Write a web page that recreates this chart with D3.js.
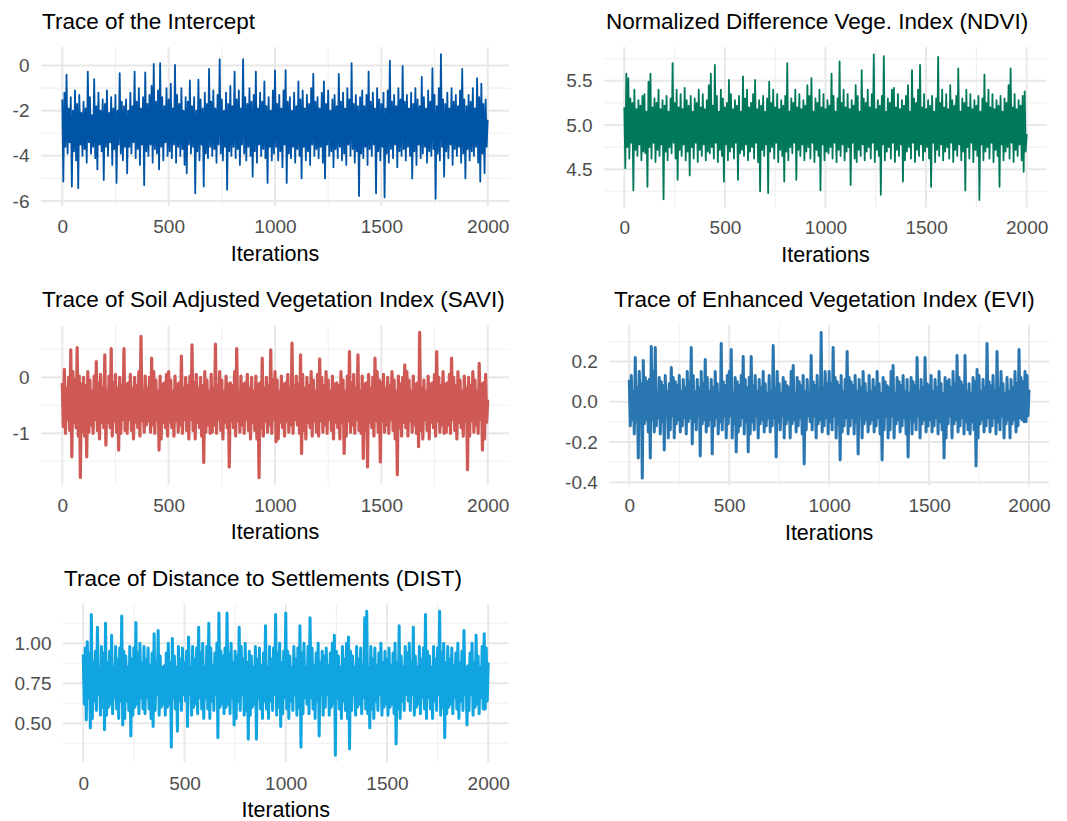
<!DOCTYPE html>
<html lang="en">
<head>
<meta charset="utf-8">
<title>MCMC traces</title>
<script src="https://cdn.jsdelivr.net/npm/d3@7"></script>
<style>
  body { margin: 0; background: #fff; }
  svg { display: block; font-family: "Liberation Sans", Arial, sans-serif; }
  .title { font-size: 22.5px; fill: #000; }
  .xlab { font-size: 21.5px; fill: #000; }
  .tick text { font-size: 19px; fill: #4d4d4d; }
</style>
</head>
<body>
<svg width="1067" height="821"></svg>
<script>
// chain thinned: one sample every 5 iterations, 0..2000
var iterations = d3.range(0, 2001, 5);

var titles = [
  "Trace of the Intercept",
  "Normalized Difference Vege. Index (NDVI)",
  "Trace of Soil Adjusted Vegetation Index (SAVI)",
  "Trace of Enhanced Vegetation Index (EVI)",
  "Trace of Distance to Settlements (DIST)"
];

var xTicks = [0, 500, 1000, 1500, 2000];
var xMinor = [250, 750, 1250, 1750];

var interceptTicks = [-6, -4, -2, 0];
var interceptMinor = [-5, -3, -1];
var ndviTicks = [4.5, 5.0, 5.5];
var ndviMinor = [4.25, 4.75, 5.25, 5.75];
var saviTicks = [-1, 0];
var saviMinor = [-1.5, -0.5, 0.5];
var eviTicks = [-0.4, -0.2, 0.0, 0.2];
var eviMinor = [-0.3, -0.1, 0.1, 0.3];
var distTicks = [0.5, 0.75, 1.0];
var distMinor = [0.375, 0.625, 0.875, 1.125];

var intercept = [
  -1.5,-5.14,-1.2,-3.6,-0.4,-3.9,-1.9,-3.4,-1.4,-5.36,-2.0,-3.8,-1.1,-4.2,-1.7,-5.43,-1.3,-3.5,-2.1,-4.0,
  -1.6,-3.7,-1.9,-4.3,-0.27,-3.4,-1.4,-3.9,-2.2,-3.6,-0.6,-4.1,-1.8,-4.6,-1.2,-3.5,-2.0,-3.8,-1.5,-5.07,
  -1.7,-3.6,-1.1,-4.0,-2.1,-3.4,-1.4,-4.4,-1.9,-3.7,-1.3,-5.2,-2.0,-3.5,-0.34,-3.9,-1.6,-4.2,-1.8,-3.6,
  -1.5,-4.77,-2.0,-3.6,-1.2,-3.9,-1.8,-3.4,-0.27,-4.1,-1.6,-3.7,-1.0,-4.4,-1.9,-3.5,-1.4,-5.3,-0.3,-3.8,
  -1.7,-4.0,-1.3,-3.5,-0.9,-4.3,0.07,-3.7,-1.6,-3.9,-1.1,-4.6,0.1,-3.6,-1.4,-4.2,-1.8,-3.4,-1.0,-4.0,
  -1.5,-3.8,-0.8,-4.1,-1.9,-3.5,0.03,-4.3,-1.3,-3.6,-1.7,-4.0,-1.0,-3.7,-2.0,-4.4,-1.4,-4.77,-1.6,-3.5,
  -0.66,-3.9,-1.8,-3.6,-1.4,-5.66,-2.0,-3.8,-0.63,-4.2,-1.5,-3.5,-1.9,-5.36,-1.2,-3.9,-1.7,-4.1,-0.15,-3.6,
  -1.6,-4.0,-1.1,-3.7,-1.9,-4.3,-1.3,-3.5,0.28,-3.9,-1.5,-4.2,-2.0,-3.6,-1.2,-5.5,-1.7,-3.8,-0.9,-4.0,
  -1.8,-3.6,-0.27,-4.1,-1.5,-3.7,-1.1,-4.4,-1.9,-3.5,0.28,-3.9,-1.4,-4.2,-1.7,-3.6,-1.0,-4.0,-1.6,-4.92,
  -1.3,-3.8,-0.27,-4.3,-1.9,-3.5,-1.2,-4.0,-1.6,-3.7,-0.7,-4.1,-1.8,-5.2,-1.4,-3.6,-2.0,-4.2,-1.1,-3.9,
  -0.22,-3.6,-1.7,-4.2,-1.3,-3.8,-1.9,-4.5,-1.1,-3.5,-0.2,-5.2,-1.6,-3.9,-1.4,-4.1,-2.0,-3.6,-1.2,-4.3,
  -1.8,-3.7,-0.7,-4.0,-1.5,-5.0,-1.1,-3.6,-1.9,-4.2,-1.3,-3.8,-1.7,-4.4,-1.0,-3.5,-0.37,-4.0,-1.6,-3.7,
  -1.4,-4.1,-1.9,-3.6,-1.2,-4.3,-0.7,-5.0,-1.7,-3.5,-1.1,-4.0,-2.0,-3.8,-1.5,-4.5,-1.3,-3.7,-1.8,-4.1,
  -0.37,-3.6,-1.6,-4.2,-1.2,-3.9,-1.9,-4.4,-1.0,-3.5,-1.5,-4.0,0.1,-3.7,-1.7,-4.3,-1.3,-3.8,-1.8,-5.78,
  -1.4,-3.9,-1.1,-4.1,-1.8,-3.6,-1.3,-4.4,-0.27,-3.7,-1.6,-4.0,-1.2,-3.5,-1.9,-5.66,-1.0,-3.8,-1.5,-4.2,
  -1.7,-3.6,-1.2,-5.84,-1.9,-3.9,-1.1,-4.3,0.22,-3.7,-1.6,-4.1,-1.3,-3.5,-1.8,-4.5,-1.0,-3.8,-1.5,-4.0,
  -0.02,-3.7,-1.6,-4.2,-1.3,-3.6,-1.9,-4.0,-1.2,-5.0,-1.7,-3.8,-1.0,-4.4,-1.5,-3.5,-1.8,-4.1,-0.5,-3.9,
  -1.4,-3.6,-1.9,-4.3,-1.1,-3.8,-1.6,-4.0,-0.12,-3.7,-1.3,-5.9,-1.8,-3.9,-1.0,-4.2,0.5,-3.6,-1.5,-4.92,
  -1.7,-3.8,-1.2,-4.1,-1.9,-3.5,-1.0,-4.4,-1.6,-3.7,-1.3,-4.0,-1.8,-3.6,-1.1,-4.3,-0.15,-3.9,-1.5,-5.0,
  -1.8,-3.7,-1.3,-4.2,-1.6,-3.8,-1.0,-4.0,-1.9,-3.6,-0.56,-4.3,-1.4,-5.14,-0.8,-3.9,-1.7,-4.77,-1.5,-3.6,
  -2.4
];

var ndvi = [
  5.2,4.51,5.58,4.75,5.53,4.62,5.3,4.8,5.25,4.26,5.4,4.72,5.18,4.65,5.28,4.78,5.22,4.6,5.33,4.7,
  5.35,4.68,5.15,4.30,5.49,4.75,5.58,4.62,5.2,4.8,5.3,4.58,5.25,4.72,5.4,4.65,5.18,4.78,5.28,4.16,
  5.22,4.7,5.33,4.6,5.15,4.75,5.3,4.68,5.70,4.8,5.25,4.62,5.4,4.38,5.2,4.72,5.35,4.65,5.18,4.78,
  5.42,4.6,5.28,4.7,5.22,4.43,5.33,4.75,5.15,4.62,5.3,4.8,5.25,4.58,5.4,4.72,5.2,4.65,5.35,4.78,
  5.18,4.6,5.28,4.7,5.45,4.68,5.58,4.75,5.22,4.62,5.68,4.8,5.33,4.58,5.15,4.72,5.4,4.65,5.3,4.36,
  5.2,4.78,5.25,4.6,5.51,4.7,5.35,4.75,5.18,4.62,5.28,4.8,5.22,4.38,5.33,4.68,5.15,4.72,5.55,4.65,
  5.3,4.78,5.4,4.6,5.2,4.7,5.25,4.75,5.35,4.62,5.51,4.8,5.18,4.58,5.28,4.25,5.22,4.72,5.33,4.65,
  5.15,4.78,5.3,4.23,5.49,4.7,5.25,4.75,5.4,4.62,5.2,4.8,5.35,4.58,5.18,4.72,5.28,4.65,5.22,4.36,
  5.33,4.7,5.70,4.6,5.15,4.75,5.3,4.68,5.25,4.8,5.4,4.38,5.2,4.72,5.35,4.65,5.18,4.78,5.28,4.6,
  5.22,4.7,5.45,4.75,5.33,4.62,5.53,4.8,5.15,4.58,5.3,4.72,5.25,4.65,5.4,4.26,5.2,4.78,5.35,4.6,
  5.18,4.7,5.28,4.68,5.22,4.75,5.58,4.62,5.33,4.8,5.15,4.58,5.3,4.72,5.72,4.65,5.25,4.78,5.4,4.6,
  5.2,4.7,5.35,4.75,5.18,4.32,5.28,4.8,5.22,4.62,5.45,4.58,5.33,4.72,5.15,4.65,5.62,4.78,5.3,4.6,
  5.25,4.7,5.4,4.75,5.2,4.62,5.35,4.8,5.80,4.58,5.18,4.72,5.28,4.65,5.22,4.21,5.33,4.78,5.78,4.6,
  5.15,4.7,5.3,4.75,5.25,4.62,5.4,4.8,5.42,4.58,5.2,4.72,5.35,4.65,5.18,4.78,5.28,4.36,5.22,4.6,
  5.33,4.7,5.45,4.75,5.15,4.62,5.62,4.8,5.3,4.58,5.25,4.72,5.4,4.65,5.68,4.78,5.2,4.6,5.35,4.7,
  5.18,4.75,5.28,4.62,5.22,4.30,5.33,4.8,5.15,4.58,5.3,4.72,5.77,4.65,5.25,4.78,5.4,4.6,5.2,4.7,
  5.35,4.75,5.18,4.62,5.45,4.8,5.28,4.58,5.22,4.72,5.33,4.65,5.64,4.78,5.15,4.6,5.3,4.7,5.25,4.26,
  5.4,4.75,5.2,4.62,5.35,4.8,5.18,4.58,5.28,4.72,5.22,4.65,5.33,4.15,5.15,4.78,5.3,4.6,5.57,4.7,
  5.25,4.75,5.4,4.62,5.2,4.8,5.35,4.58,5.18,4.72,5.28,4.65,5.22,4.30,5.33,4.78,5.15,4.6,5.3,4.7,
  5.25,4.75,5.45,4.62,5.64,4.8,5.2,4.58,5.35,4.72,5.18,4.65,5.28,4.78,5.22,4.6,5.33,4.47,5.38,4.7,
  4.9
];

var savi = [
  -0.1,-0.88,0.14,-1.0,-0.2,-0.75,0.0,-0.95,0.49,-1.42,0.1,-0.8,-0.05,-0.9,0.53,-1.05,0.02,-1.79,-0.12,-0.98,
  0.0,-1.05,-0.15,-1.42,0.1,-0.98,-0.05,-0.85,-0.25,-1.0,0.02,-0.75,0.28,-0.95,-0.1,-1.1,0.05,-0.8,-0.2,-0.9,
  0.40,-1.21,-0.25,-0.8,0.02,-0.9,0.51,-1.05,-0.1,-0.78,0.05,-0.98,-0.2,-1.30,0.0,-1.0,-0.15,-0.75,0.51,-0.95,
  -0.12,-1.0,-0.1,-0.75,0.05,-0.95,-0.2,-1.1,0.0,-0.8,-0.15,-0.9,0.1,-1.05,0.73,-0.78,-0.25,-0.98,0.02,-0.85,
  -0.2,-0.78,0.0,-0.98,0.34,-0.85,0.1,-1.0,-0.05,-0.75,-0.25,-1.30,0.02,-1.1,-0.12,-0.8,-0.1,-0.9,0.05,-1.05,
  0.1,-0.8,-0.05,-0.9,-0.25,-1.05,0.02,-0.78,-0.12,-0.98,-0.1,-0.85,0.38,-1.0,-0.2,-0.75,0.0,-0.95,-0.15,-1.1,
  0.02,-0.75,0.58,-0.95,-0.1,-1.1,0.05,-0.8,-0.2,-0.9,0.0,-1.05,-0.15,-1.52,0.1,-0.98,-0.05,-0.85,-0.25,-1.0,
  0.05,-0.98,-0.2,-0.85,0.59,-1.0,-0.15,-0.75,0.1,-0.95,-0.05,-1.1,-0.25,-0.8,0.02,-0.9,-0.12,-1.60,-0.1,-0.78,
  -0.15,-0.9,0.1,-1.05,0.51,-0.78,-0.25,-0.98,0.02,-0.85,-0.12,-1.0,-0.1,-0.75,0.05,-0.95,-0.2,-1.1,0.0,-0.8,
  -0.25,-0.95,0.02,-1.1,-0.12,-1.79,-0.1,-0.9,0.34,-1.05,-0.2,-0.78,0.0,-0.98,-0.15,-0.85,0.49,-1.0,-0.05,-0.75,
  0.1,-1.15,-0.05,-1.1,-0.25,-0.8,0.02,-0.9,-0.12,-1.05,-0.1,-0.78,0.05,-0.98,-0.2,-0.85,0.61,-1.0,-0.15,-0.75,
  0.02,-0.85,-0.12,-1.0,0.40,-1.36,0.05,-0.95,-0.2,-1.1,0.0,-0.8,-0.15,-0.9,0.1,-1.05,-0.05,-0.78,-0.25,-0.98,
  0.05,-1.05,0.33,-0.78,0.0,-0.98,-0.15,-0.85,0.1,-1.0,-0.05,-0.75,-0.25,-0.95,0.02,-1.1,-0.12,-0.8,-0.1,-0.9,
  -0.15,-1.1,0.1,-0.8,-0.05,-1.36,-0.25,-1.05,0.02,-0.78,0.46,-0.98,-0.1,-0.85,0.05,-1.0,-0.2,-0.75,0.40,-0.95,
  -0.25,-1.0,0.02,-1.45,-0.12,-0.95,-0.1,-1.60,0.05,-0.8,-0.2,-0.9,0.0,-1.05,0.34,-0.78,0.1,-0.98,-0.05,-1.51,
  -0.1,-0.78,0.05,-0.98,-0.2,-0.85,0.0,-1.0,-0.15,-0.75,0.1,-0.95,-0.05,-1.1,-0.25,-1.74,0.02,-0.9,-0.12,-1.05,
  0.0,-0.8,0.22,-0.9,0.1,-1.05,-0.05,-0.78,-0.25,-0.98,0.02,-0.85,-0.12,-1.0,-0.1,-1.24,0.80,-0.95,-0.2,-1.1,
  -0.05,-0.75,-0.25,-0.95,0.02,-1.1,-0.12,-0.8,-0.1,-0.9,0.05,-1.05,0.46,-0.78,0.0,-0.98,-0.15,-0.85,0.1,-1.0,
  -0.12,-0.98,-0.1,-0.85,0.05,-1.0,0.34,-0.75,0.0,-0.95,-0.15,-1.1,0.1,-0.8,-0.05,-0.9,-0.25,-1.05,0.02,-0.78,
  -0.2,-1.65,0.0,-1.05,-0.15,-0.78,0.1,-0.98,-0.05,-0.85,-0.25,-1.0,0.25,-0.75,-0.12,-1.30,-0.1,-1.1,0.05,-0.8,
  -0.4
];

var evi = [
  0.11,-0.12,0.13,-0.09,0.05,-0.16,0.22,-0.1,0.07,-0.28,0.15,-0.07,0.09,-0.38,0.205,-0.11,0.12,-0.09,0.1,-0.15,
  0.11,-0.28,0.275,-0.09,0.15,-0.15,0.27,-0.12,0.04,-0.08,0.12,-0.16,0.1,-0.1,0.08,-0.24,0.13,-0.07,0.05,-0.18,
  0.09,-0.14,0.17,-0.07,0.12,-0.18,0.1,-0.11,0.08,-0.09,0.13,-0.15,0.05,-0.12,0.11,-0.08,0.07,-0.16,0.15,-0.1,
  0.1,-0.08,0.27,-0.21,0.13,-0.1,0.05,-0.14,0.11,-0.07,0.07,-0.27,0.15,-0.11,0.09,-0.09,0.21,-0.15,0.12,-0.12,
  0.05,-0.09,0.11,-0.26,0.07,-0.12,0.15,-0.08,0.09,-0.16,0.04,-0.1,0.29,-0.14,0.1,-0.07,0.08,-0.18,0.13,-0.11,
  0.15,-0.07,0.26,-0.18,0.04,-0.11,0.12,-0.25,0.1,-0.15,0.08,-0.12,0.13,-0.08,0.225,-0.16,0.11,-0.1,0.07,-0.25,
  0.12,-0.16,0.225,-0.1,0.08,-0.14,0.13,-0.07,0.05,-0.18,0.11,-0.11,0.07,-0.09,0.15,-0.15,0.09,-0.12,0.04,-0.08,
  0.13,-0.15,0.05,-0.12,0.28,-0.08,0.07,-0.275,0.15,-0.1,0.09,-0.14,0.04,-0.07,0.12,-0.18,0.1,-0.11,0.08,-0.09,
  0.07,-0.18,0.15,-0.11,0.18,-0.09,0.04,-0.15,0.12,-0.12,0.1,-0.08,0.08,-0.16,0.13,-0.31,0.05,-0.14,0.11,-0.07,
  0.04,-0.1,0.23,-0.14,0.1,-0.07,0.08,-0.18,0.13,-0.11,0.05,-0.09,0.345,-0.15,0.07,-0.12,0.15,-0.08,0.09,-0.16,
  0.15,-0.1,0.09,-0.14,0.27,-0.07,0.12,-0.18,0.1,-0.11,0.08,-0.29,0.13,-0.15,0.05,-0.12,0.11,-0.08,0.25,-0.16,
  0.12,-0.12,0.1,-0.08,0.08,-0.16,0.13,-0.1,0.05,-0.26,0.11,-0.07,0.07,-0.18,0.15,-0.11,0.09,-0.09,0.04,-0.15,
  0.13,-0.11,0.05,-0.09,0.11,-0.15,0.07,-0.12,0.15,-0.08,0.09,-0.16,0.04,-0.29,0.12,-0.14,0.1,-0.07,0.08,-0.18,
  0.07,-0.14,0.15,-0.07,0.18,-0.18,0.04,-0.11,0.12,-0.09,0.1,-0.15,0.08,-0.12,0.13,-0.08,0.05,-0.16,0.11,-0.275,
  0.04,-0.08,0.12,-0.16,0.1,-0.1,0.08,-0.14,0.22,-0.07,0.05,-0.18,0.11,-0.11,0.07,-0.09,0.22,-0.15,0.09,-0.12,
  0.08,-0.09,0.13,-0.15,0.05,-0.12,0.11,-0.08,0.07,-0.16,0.15,-0.1,0.09,-0.14,0.04,-0.28,0.12,-0.18,0.1,-0.11,
  0.11,-0.07,0.07,-0.18,0.15,-0.11,0.09,-0.09,0.23,-0.15,0.12,-0.12,0.1,-0.08,0.08,-0.16,0.23,-0.1,0.05,-0.14,
  0.09,-0.16,0.04,-0.1,0.12,-0.14,0.1,-0.32,0.16,-0.18,0.13,-0.11,0.05,-0.09,0.11,-0.15,0.07,-0.12,0.29,-0.08,
  0.1,-0.15,0.08,-0.12,0.13,-0.08,0.05,-0.16,0.25,-0.1,0.07,-0.14,0.15,-0.07,0.09,-0.18,0.04,-0.11,0.12,-0.09,
  0.05,-0.18,0.11,-0.11,0.07,-0.09,0.15,-0.15,0.09,-0.12,0.26,-0.08,0.12,-0.09,0.1,-0.1,0.15,-0.1,0.13,-0.07,
  0.06
];

var dist = [
  0.93,0.62,0.97,0.52,1.01,0.66,0.94,0.47,1.18,0.53,0.88,0.64,0.95,0.58,1.10,0.68,0.85,0.55,0.98,0.6,
  0.94,0.46,1.125,0.55,0.88,0.6,0.95,0.62,1.05,0.56,0.85,0.66,0.98,0.59,0.9,0.53,0.97,0.64,1.17,0.49,
  0.95,0.53,0.92,0.64,0.85,0.58,0.98,0.42,0.9,0.55,0.97,0.6,1.13,0.62,0.94,0.56,1.0,0.66,0.88,0.59,
  0.98,0.56,0.9,0.66,0.97,0.59,0.86,0.53,0.94,0.48,1.06,0.58,0.88,0.68,1.08,0.55,0.92,0.6,0.85,0.62,
  0.86,0.55,0.94,0.6,1.0,0.62,0.88,0.35,1.03,0.66,0.92,0.59,0.85,0.45,0.98,0.64,0.9,0.58,0.97,0.68,
  0.88,0.64,0.95,0.48,1.04,0.68,0.85,0.55,0.98,0.6,0.9,0.62,0.97,0.56,1.10,0.66,0.94,0.59,1.0,0.53,
  0.85,0.66,0.98,0.59,1.125,0.53,0.97,0.64,0.86,0.58,0.94,0.68,1.0,0.41,1.19,0.6,0.95,0.62,0.92,0.56,
  0.97,0.6,1.19,0.62,0.94,0.56,1.0,0.66,0.88,0.49,0.95,0.53,0.92,0.64,1.10,0.58,0.98,0.68,0.9,0.55,
  1.0,0.58,0.88,0.40,0.95,0.55,0.92,0.6,0.85,0.62,0.98,0.40,0.9,0.66,0.97,0.59,0.86,0.53,0.94,0.64,
  1.11,0.59,0.85,0.53,0.98,0.64,0.9,0.58,0.97,0.68,1.18,0.55,0.94,0.6,1.0,0.48,0.88,0.56,0.95,0.66,
  1.19,0.59,0.95,0.53,0.92,0.64,0.85,0.58,0.98,0.68,0.9,0.55,0.97,0.6,1.11,0.35,0.94,0.56,1.0,0.66,
  0.85,0.62,0.98,0.56,1.16,0.66,0.97,0.59,0.86,0.53,0.94,0.64,1.0,0.42,0.88,0.68,0.95,0.55,0.92,0.6,
  0.97,0.68,0.86,0.55,0.94,0.6,1.0,0.62,1.05,0.30,0.95,0.66,0.92,0.59,0.85,0.53,0.98,0.64,0.9,0.58,
  1.0,0.53,1.04,0.34,0.95,0.58,0.92,0.68,0.85,0.55,0.98,0.6,0.9,0.62,0.97,0.56,0.86,0.66,1.16,0.59,
  1.20,0.56,0.85,0.47,0.98,0.59,0.9,0.53,0.97,0.64,0.86,0.58,0.94,0.68,1.0,0.55,0.88,0.6,0.95,0.62,
  0.9,0.55,0.97,0.6,0.86,0.62,0.94,0.56,1.0,0.37,0.88,0.59,1.11,0.53,0.92,0.64,0.85,0.58,0.98,0.68,
  0.94,0.64,1.0,0.58,0.88,0.68,1.10,0.55,0.92,0.6,0.85,0.62,0.98,0.56,0.9,0.66,0.97,0.59,1.18,0.53,
  0.95,0.66,0.92,0.59,0.85,0.53,0.98,0.64,0.9,0.58,0.97,0.68,1.20,0.55,0.94,0.6,1.0,0.41,0.88,0.56,
  0.98,0.6,0.9,0.62,0.97,0.56,0.86,0.66,0.94,0.59,1.0,0.53,0.88,0.64,0.95,0.58,1.08,0.68,0.85,0.49,
  0.86,0.58,0.94,0.68,1.0,0.55,0.88,0.6,1.05,0.62,0.92,0.56,0.85,0.66,0.98,0.59,1.06,0.59,0.97,0.64,
  0.88
];

// hyphen minus like ggplot
var loc = d3.formatLocale({decimal: ".", thousands: ",", grouping: [3], currency: ["", ""], minus: "-"});

// panel boxes
var panels = [
  {values: intercept, ticks: interceptTicks, minor: interceptMinor, fmt: "d",
   color: "#0054a6", width: 1.8, x0: 41, x1: 509, y0: 47, y1: 206, tx: 42},
  {values: ndvi, ticks: ndviTicks, minor: ndviMinor, fmt: ".1f",
   color: "#00785a", width: 1.8, x0: 604.2, x1: 1046.8, y0: 47, y1: 207.4, tx: 606},
  {values: savi, ticks: saviTicks, minor: saviMinor, fmt: "d",
   color: "#cf5a55", width: 3.2, x0: 41, x1: 509, y0: 325.2, y1: 484.8, tx: 42},
  {values: evi, ticks: eviTicks, minor: eviMinor, fmt: ".1f",
   color: "#2a76b0", width: 3, x0: 609.3, x1: 1049, y0: 325.1, y1: 485.4, tx: 614},
  {values: dist, ticks: distTicks, minor: distMinor, fmt: ".2f",
   color: "#10a5e0", width: 3, x0: 63, x1: 508.5, y0: 604.1, y1: 762.5, tx: 64}
];

var svg = d3.select("svg");

panels.forEach(function(p, k) {
  var g = svg.append("g");

  // ggplot style 5% expansion
  var x = d3.scaleLinear().domain([-100, 2100]).range([p.x0, p.x1]);
  var ext = d3.extent(p.values);
  var pad = (ext[1] - ext[0]) * 0.05;
  var y = d3.scaleLinear().domain([ext[0] - pad, ext[1] + pad]).range([p.y1, p.y0]);

  // grid
  g.selectAll(".ymin").data(p.minor).enter().append("line")
    .attr("x1", p.x0).attr("x2", p.x1)
    .attr("y1", function(d) { return y(d); }).attr("y2", function(d) { return y(d); })
    .attr("stroke", "#f0f0f0").attr("stroke-width", 1.1);
  g.selectAll(".xmin").data(xMinor).enter().append("line")
    .attr("y1", p.y0).attr("y2", p.y1)
    .attr("x1", function(d) { return x(d); }).attr("x2", function(d) { return x(d); })
    .attr("stroke", "#f0f0f0").attr("stroke-width", 1.1);
  g.selectAll(".ymaj").data(p.ticks).enter().append("line")
    .attr("x1", p.x0).attr("x2", p.x1)
    .attr("y1", function(d) { return y(d); }).attr("y2", function(d) { return y(d); })
    .attr("stroke", "#e8e8e8").attr("stroke-width", 2);
  g.selectAll(".xmaj").data(xTicks).enter().append("line")
    .attr("y1", p.y0).attr("y2", p.y1)
    .attr("x1", function(d) { return x(d); }).attr("x2", function(d) { return x(d); })
    .attr("stroke", "#e8e8e8").attr("stroke-width", 2);

  // trace
  var line = d3.line()
    .x(function(d, i) { return x(iterations[i]); })
    .y(function(d) { return y(d); });
  g.append("path")
    .datum(p.values)
    .attr("d", line)
    .attr("fill", "none")
    .attr("stroke", p.color)
    .attr("stroke-width", p.width)
    .attr("stroke-linejoin", "round");

  // axes
  var yAxis = g.append("g")
    .attr("transform", "translate(" + p.x0 + ",0)")
    .call(d3.axisLeft(y).tickValues(p.ticks).tickFormat(loc.format(p.fmt)).tickSize(0).tickPadding(11.5));
  yAxis.select(".domain").remove();
  yAxis.selectAll("text").attr("font-family", null).attr("font-size", null);

  var xAxis = g.append("g")
    .attr("transform", "translate(0," + p.y1 + ")")
    .call(d3.axisBottom(x).tickValues(xTicks).tickFormat(d3.format("d")).tickSize(0));
  xAxis.select(".domain").remove();
  xAxis.selectAll("text").attr("font-family", null).attr("font-size", null).attr("dy", null)
    .attr("y", 27);

  g.append("text")
    .attr("class", "xlab")
    .attr("x", (p.x0 + p.x1) / 2)
    .attr("y", p.y1 + 54.5)
    .attr("text-anchor", "middle")
    .text("Iterations");

  g.append("text")
    .attr("class", "title")
    .attr("x", p.tx)
    .attr("y", p.y0 - 18)
    .text(titles[k]);
});
</script>
</body>
</html>
